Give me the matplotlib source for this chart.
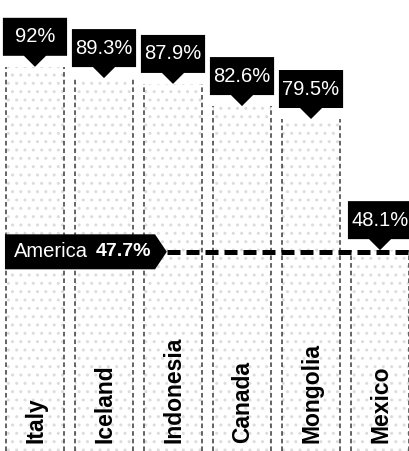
import matplotlib
matplotlib.use('Agg')
import matplotlib.pyplot as plt
from matplotlib.patches import Polygon

countries = ['Italy', 'Iceland', 'Indonesia', 'Canada', 'Mongolia', 'Mexico']
values = [92, 89.3, 87.9, 82.6, 79.5, 48.1]
labels = ['92%', '89.3%', '87.9%', '82.6%', '79.5%', '48.1%']
ref_name = 'America'
ref_value = 47.7
ref_label = '47.7%'

sans = ['Liberation Sans', 'DejaVu Sans']
plt.rcParams['hatch.linewidth'] = 1.0

fig = plt.figure(figsize=(4.09, 4.51), dpi=100)
ax = fig.add_axes([0, 0, 1, 1])
ax.set_xlim(-0.507, 5.42)
ax.set_ylim(0, 108)
ax.axis('off')

px = 108 / 451.0      # data units per pixel (y)
bw = 0.83
xs = list(range(len(countries)))

# bars: faint stippled fill with dashed side edges
ax.bar(xs, values, width=bw, color='white', edgecolor='#dcdcdc',
       linewidth=0, hatch='..', zorder=1)
for x, v in zip(xs, values):
    ax.vlines([x - bw / 2, x + bw / 2], 0, v, colors='#3a3a3a',
              linestyles=(0, (3, 2)), linewidth=1.1, zorder=2)

# value callouts
box_w = 0.465
box_h = 38 * px
tip_h = 11 * px
tip_w = 0.16
for x, v, lab in zip(xs, values, labels):
    b = v + tip_h
    poly = Polygon([(x, v), (x + tip_w, b), (x + box_w, b), (x + box_w, b + box_h),
                    (x - box_w, b + box_h), (x - box_w, b), (x - tip_w, b)],
                   closed=True, facecolor='black', edgecolor='none', zorder=4)
    ax.add_patch(poly)
    ax.text(x, b + box_h / 2, lab, color='white', fontsize=14.5, family=sans,
            ha='center', va='center', zorder=5)

# country names
for x, c in zip(xs, countries):
    ax.text(x + 0.01, 8 * px, c, rotation=90, ha='center', va='bottom',
            fontsize=16.5, fontweight='bold', family=sans,
            color='black', zorder=5)

# America reference line
x0, x1, xt = -0.435, 1.74, 1.91
h = 17.5 * px
ax.add_patch(Polygon([(x0, ref_value - h), (x1, ref_value - h), (xt, ref_value),
                      (x1, ref_value + h), (x0, ref_value + h)],
                     closed=True, facecolor='black', edgecolor='none', zorder=4))
ax.plot([xt, 5.42], [ref_value, ref_value], color='black', lw=3.6,
        dashes=(2.6, 1.2), zorder=3)
ax.text(x0 + 0.13, ref_value, ref_name, color='white', fontsize=14.5, family=sans,
        ha='left', va='center', zorder=5)
ax.text(x1 - 0.06, ref_value, ref_label, color='white', fontsize=14,
        fontweight='bold', family=sans, ha='right', va='center', zorder=5)

fig.savefig('out.png', dpi=100)
